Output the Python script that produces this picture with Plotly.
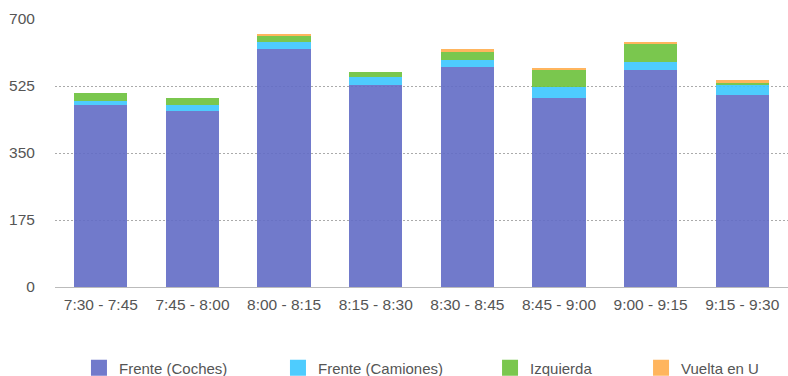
import plotly.graph_objs as go

# categories (time slots)
slots = ['7:30 - 7:45', '7:45 - 8:00', '8:00 - 8:15', '8:15 - 8:30',
         '8:30 - 8:45', '8:45 - 9:00', '9:00 - 9:15', '9:15 - 9:30']

# series values
coches = [475, 460, 622, 528, 575, 493, 567, 501]
camiones = [12, 15, 18, 20, 18, 29, 21, 27]
izquierda = [19, 18, 16, 14, 21, 45, 47, 5]
vuelta_u = [0, 0, 5, 0, 8, 3, 5, 8]

y_ticks = [0, 175, 350, 525, 700]

# colours are a bit stronger than they look, bars are slightly see-through
series = [('Frente (Coches)', coches, '#626cc5'),
          ('Frente (Camiones)', camiones, '#3bc7fe'),
          ('Izquierda', izquierda, '#6bc13b'),
          ('Vuelta en U', vuelta_u, '#ffad4c')]

# one legend per series so each entry can sit where it sits in the original
legend_names = ['legend', 'legend2', 'legend3', 'legend4']
legend_x = [0.0327, 0.3042, 0.5935, 0.7995]

fig = go.Figure()
for name, vals, color in series:
    fig.add_trace(go.Bar(x=slots, y=vals, name=name, showlegend=False,
                         marker={'color': color, 'opacity': 0.9, 'line': {'width': 0}}))
# legend entries with bigger square swatches
for (name, vals, color), lg in zip(series, legend_names):
    fig.add_trace(go.Scatter(x=[None], y=[None], name=name, legend=lg,
                             mode='markers', hoverinfo='skip',
                             marker={'symbol': 'square', 'size': 16, 'color': color,
                                     'opacity': 0.9, 'line': {'width': 0}}))

fig.update_layout(barmode='stack',
                  bargap=0.42,
                  width=788, height=376,
                  paper_bgcolor='#ffffff',
                  plot_bgcolor='#ffffff',
                  font={'family': 'Liberation Sans, Arial, sans-serif', 'size': 15.5, 'color': '#555555'},
                  margin={'l': 55, 'r': 0, 't': 19, 'b': 89, 'autoexpand': False},
                  showlegend=True)

# legends
for lg, lx in zip(legend_names, legend_x):
    fig.update_layout({lg: {'orientation': 'h', 'x': lx, 'xanchor': 'left',
                            'y': -0.302, 'yanchor': 'middle',
                            'bgcolor': 'rgba(0,0,0,0)',
                            'font': {'size': 15, 'color': '#555555'}}})

fig.update_yaxes(range=[0, 700],
                 tickvals=y_ticks,
                 showgrid=True,
                 gridcolor='#aaaaaa',
                 griddash='2px,2px',
                 gridwidth=1,
                 zeroline=False,
                 automargin=False,
                 ticks='outside', ticklen=16, tickcolor='rgba(0,0,0,0)')
fig.update_xaxes(showline=True, linecolor='#bbbbbb', linewidth=1,
                 automargin=False,
                 ticks='outside', ticklen=3, tickcolor='rgba(0,0,0,0)')

# page body has an 8px margin by default, drop it so the chart fills the window
fig.write_html("out.html", config={'displayModeBar': False},
               post_script="document.body.style.margin='0';")
